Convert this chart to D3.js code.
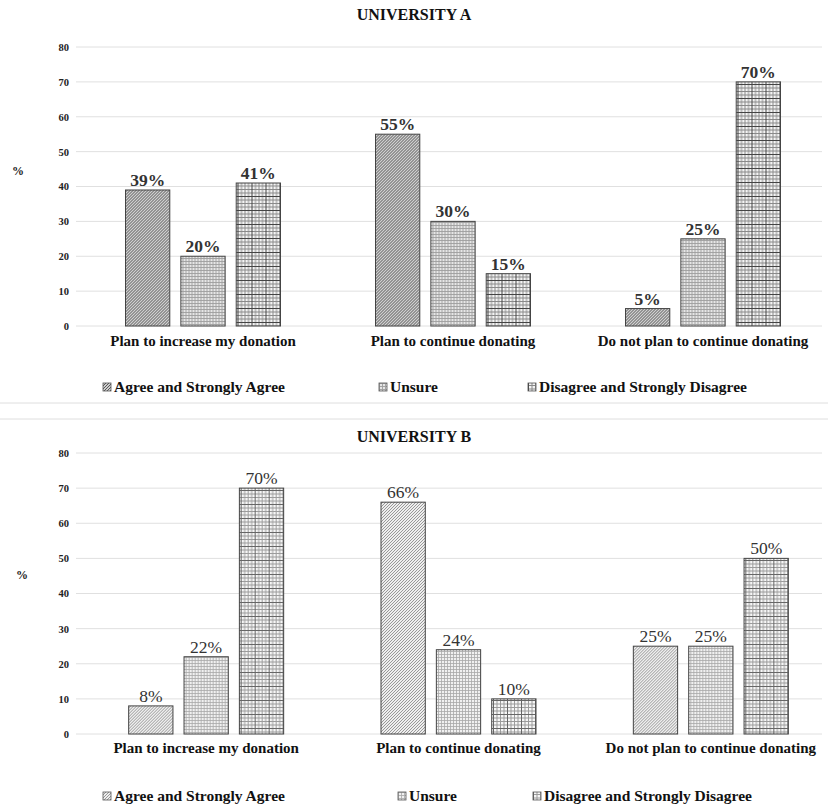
<!DOCTYPE html>
<html>
<head>
<meta charset="utf-8">
<script src="https://cdn.jsdelivr.net/npm/d3@7"></script>
<style>
  html, body { margin: 0; padding: 0; background: #fff; }
  svg { display: block; font-family: "Liberation Serif", "Times New Roman", serif; }
</style>
</head>
<body>
<svg id="chart" width="828" height="806"></svg>
<script>
// Survey responses by intention, two universities
const categories = ["Plan to increase my donation", "Plan to continue donating", "Do not plan to continue donating"];
const seriesNames = ["Agree and Strongly Agree", "Unsure", "Disagree and Strongly Disagree"];
const valuesA = [
  [39, 20, 41],
  [55, 30, 15],
  [5, 25, 70]
];
const valuesB = [
  [8, 22, 70],
  [66, 24, 10],
  [25, 25, 50]
];
const yTicks = [0, 10, 20, 30, 40, 50, 60, 70, 80];

const svg = d3.select("#chart");
const defs = svg.append("defs");

// Fill patterns
function diagPattern(id, bg, stroke, gap, sw) {
  const p = defs.append("pattern").attr("id", id).attr("patternUnits", "userSpaceOnUse")
    .attr("width", gap).attr("height", gap);
  p.append("rect").attr("width", gap).attr("height", gap).attr("fill", bg);
  p.append("path").attr("d", `M0,${gap} L${gap},0 M${-gap / 2},${gap / 2} L${gap / 2},${-gap / 2} M${gap / 2},${gap * 1.5} L${gap * 1.5},${gap / 2}`)
    .attr("stroke", stroke).attr("stroke-width", sw);
}
function gridPattern(id, bg, stroke, gap, sw) {
  const p = defs.append("pattern").attr("id", id).attr("patternUnits", "userSpaceOnUse")
    .attr("width", gap).attr("height", gap);
  p.append("rect").attr("width", gap).attr("height", gap).attr("fill", bg);
  p.append("path").attr("d", `M0,0.5 H${gap} M0.5,0 V${gap}`)
    .attr("stroke", stroke).attr("stroke-width", sw);
}
function plaidPattern(id, bg, stroke, dark, gap, n) {
  const size = gap * n;
  const p = defs.append("pattern").attr("id", id).attr("patternUnits", "userSpaceOnUse")
    .attr("width", size).attr("height", size);
  p.append("rect").attr("width", size).attr("height", size).attr("fill", bg);
  let d = "";
  for (let i = 0; i < n; i++) d += `M0,${i * gap + 0.5} H${size} M${i * gap + 0.5},0 V${size} `;
  p.append("path").attr("d", d).attr("stroke", stroke).attr("stroke-width", 1);
  p.append("path").attr("d", `M0,0.5 H${size} M0.5,0 V${size}`).attr("stroke", dark).attr("stroke-width", 1);
}
diagPattern("a-agree", "#cfcfcf", "#4a4a4a", 3, 0.9);
gridPattern("a-unsure", "#e6e6e6", "#9e9e9e", 3, 0.9);
plaidPattern("a-disagree", "#f4f4f4", "#8a8a8a", "#444", 3.5, 4);
diagPattern("b-agree", "#eeeeee", "#8e8e8e", 3, 0.9);
gridPattern("b-unsure", "#f0f0f0", "#a8a8a8", 3, 0.8);
plaidPattern("b-disagree", "#f6f6f6", "#9c9c9c", "#666", 3.5, 4);

// Panel separators
[403, 419].forEach(yy => {
  svg.append("line").attr("x1", 0).attr("x2", 828).attr("y1", yy).attr("y2", yy)
    .attr("stroke", "#dedede").attr("stroke-width", 1);
});

function drawPanel(cfg) {
  const g = svg.append("g");
  const y = d3.scaleLinear().domain([0, 80]).range([cfg.y0, cfg.y80]);
  const x0 = d3.scaleBand().domain(categories).range(cfg.xRange).paddingInner(0).paddingOuter(0);
  const groupWidth = 155;
  const x1 = d3.scaleBand().domain(seriesNames).range([0, groupWidth]).paddingInner(0.2);

  // gridlines
  g.append("g").selectAll("line").data(yTicks).join("line")
    .attr("x1", 76).attr("x2", 822)
    .attr("y1", d => y(d)).attr("y2", d => y(d))
    .attr("stroke", "#e0e0e0").attr("stroke-width", 1);

  // y axis labels
  const axis = d3.axisLeft(y).tickValues(yTicks).tickSize(0).tickPadding(0);
  const ax = g.append("g").attr("transform", "translate(69,0)").call(axis)
    .attr("font-family", "Liberation Serif, serif");
  ax.select(".domain").remove();
  ax.selectAll("text").attr("font-size", 10.5).attr("font-weight", "bold")
    .attr("fill", "#222");

  g.append("text").attr("x", cfg.pctX).attr("y", cfg.pctY).text("%")
    .attr("font-size", 12).attr("font-weight", "bold").attr("fill", "#222");

  // title
  g.append("text").attr("x", 414).attr("y", cfg.titleY).attr("text-anchor", "middle")
    .attr("font-size", 16).attr("font-weight", "bold").attr("fill", "#111").text(cfg.title);

  // bars
  const groups = g.selectAll("g.grp").data(categories).join("g").attr("class", "grp")
    .attr("transform", c => `translate(${x0(c) + x0.bandwidth() / 2 - groupWidth / 2},0)`);

  groups.each(function (c, ci) {
    const gg = d3.select(this);
    const vals = cfg.values[ci];
    gg.selectAll("rect").data(seriesNames).join("rect")
      .attr("x", s => x1(s))
      .attr("width", x1.bandwidth())
      .attr("y", (s, i) => y(vals[i]))
      .attr("height", (s, i) => y(0) - y(vals[i]))
      .attr("fill", (s, i) => `url(#${cfg.patterns[i]})`)
      .attr("stroke", "#444").attr("stroke-width", 1);
    gg.selectAll("text.val").data(seriesNames).join("text").attr("class", "val")
      .attr("x", s => x1(s) + x1.bandwidth() / 2)
      .attr("y", (s, i) => y(vals[i]) - 4)
      .attr("text-anchor", "middle")
      .attr("font-size", cfg.valueSize)
      .attr("font-weight", cfg.valueWeight)
      .attr("fill", "#333")
      .text((s, i) => vals[i] + "%");
    gg.append("text").attr("x", groupWidth / 2 + cfg.catShift).attr("y", cfg.catY)
      .attr("text-anchor", "middle").attr("font-size", 15).attr("font-weight", "bold")
      .attr("fill", "#111").text(c);
  });

  // legend
  const leg = g.selectAll("g.leg").data(seriesNames).join("g").attr("class", "leg")
    .attr("transform", (s, i) => `translate(${cfg.legendX[i]},${cfg.legendY})`);
  leg.append("rect").attr("x", 0).attr("y", -9).attr("width", 8).attr("height", 8)
    .attr("fill", (s, i) => `url(#${cfg.patterns[i]})`).attr("stroke", "#555").attr("stroke-width", 0.8);
  leg.append("text").attr("x", 11).attr("y", 0).attr("font-size", 15.5).attr("font-weight", "bold")
    .attr("fill", "#111").text(s => s);
}

drawPanel({
  title: "UNIVERSITY A", titleY: 20,
  y0: 326, y80: 47,
  xRange: [78, 828],
  values: valuesA,
  patterns: ["a-agree", "a-unsure", "a-disagree"],
  valueSize: 17.5, valueWeight: "bold",
  catY: 346, catShift: 0,
  pctX: 12, pctY: 175,
  legendX: [103, 379, 528], legendY: 392
});

drawPanel({
  title: "UNIVERSITY B", titleY: 442,
  y0: 734, y80: 453,
  xRange: [80, 837],
  values: valuesB,
  patterns: ["b-agree", "b-unsure", "b-disagree"],
  valueSize: 17.5, valueWeight: "normal",
  catY: 753, catShift: 0,
  pctX: 16, pctY: 579,
  legendX: [103, 398, 533], legendY: 801
});
</script>
</body>
</html>
